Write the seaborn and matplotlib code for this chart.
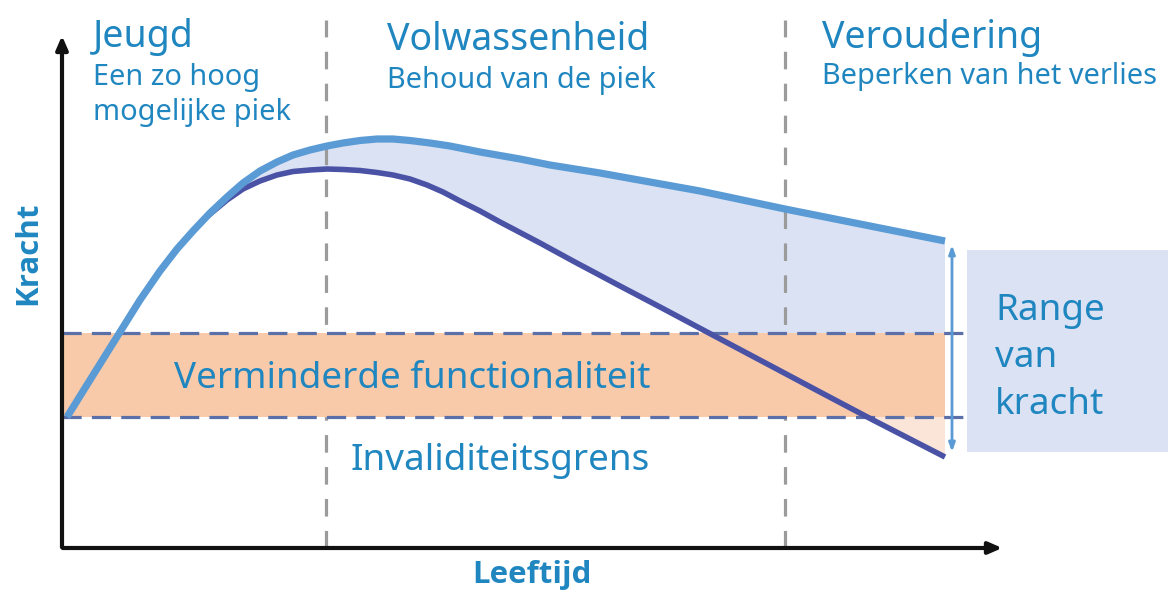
import matplotlib
matplotlib.use("Agg")
import matplotlib.pyplot as plt
from matplotlib.patches import Rectangle
import seaborn as sns
import numpy as np

# ---- data (age position, strength level) ----
upper_x = [67, 90, 120, 140, 160, 177, 193, 210, 227, 243, 260, 277, 293, 310, 327, 343, 360, 377,
           393, 410, 430, 450, 480, 520, 550, 600, 700, 785, 870, 945]
upper_y = [176, 213, 261, 293, 322, 344, 362, 380, 396, 410, 422, 431, 438, 443, 447, 450, 452.5, 454,
           454, 452.5, 450, 447, 441, 434, 428, 420, 402, 384, 367, 352]
lower_x = [203, 215, 227, 243, 260, 277, 293, 310, 327, 343, 360, 377, 393, 410, 427, 443, 460, 480,
           500, 540, 573, 620, 660, 707, 773, 820, 873, 945]
lower_y = [373, 383, 393, 404, 412, 418, 421.5, 423, 424, 423.5, 422.5, 420.5, 418, 414, 408, 401, 392, 382,
           371, 350, 332, 307, 286, 261, 226, 201, 173, 136]

band_low, band_high = 176, 260          # invaliditeitsgrens / verminderde functionaliteit
phase_bounds = [326, 785]
phase_titles = ["Jeugd", "Volwassenheid", "Veroudering"]
phase_subtitles = ["Een zo hoog\nmogelijke piek", "Behoud van de piek", "Beperken van het verlies"]
band_label = "Verminderde functionaliteit"
limit_label = "Invaliditeitsgrens"
range_label = "Range\nvan\nkracht"
x_label = "Leeftijd"
y_label = "Kracht"

# ---- style ----
sns.set_style("white")
plt.rcParams['font.family'] = ['Noto Sans', 'DejaVu Sans']

TXT = "#1f86c0"
UP = "#5b9bd5"
LOW = "#4a52a6"
FILL = "#dbe2f3"
ORANGE = "#f8caa9"
PEACH = "#fbe4d8"
HDASH = "#5b6fa8"
VDASH = "#9b9b9b"

fig = plt.figure(figsize=(11.68, 5.93), dpi=100)
ax = fig.add_axes([0, 0, 1, 1])
ax.set_xlim(0, 1168)
ax.set_ylim(0, 593)
ax.axis("off")

x0, y0 = 62, 45
x_end = 945

# fill between curves
ux = np.array(upper_x); uy = np.array(upper_y)
m = ux >= lower_x[0]
poly_x = np.concatenate([ux[m], np.array(lower_x)[::-1]])
poly_y = np.concatenate([uy[m], np.array(lower_y)[::-1]])
p1 = ax.fill(poly_x, poly_y, color=FILL, lw=0, zorder=1)[0]
p1.set_clip_path(Rectangle((0, band_low), 1168, 600, transform=ax.transData))
p2 = ax.fill(poly_x, poly_y, color=PEACH, lw=0, zorder=1)[0]
p2.set_clip_path(Rectangle((0, 0), 1168, band_low, transform=ax.transData))

# right box
ax.add_patch(Rectangle((967, 141), 201, 202, color=FILL, lw=0, zorder=1))

# phase boundary lines
for xb in phase_bounds:
    ax.plot([xb, xb], [y0, 573], color=VDASH, lw=2.3, dashes=(5.5, 4.5), zorder=2)

# orange band
ax.add_patch(Rectangle((x0, band_low), x_end - x0, band_high - band_low, color=ORANGE, lw=0, zorder=3))
for yb in (band_low, band_high):
    ax.plot([x0, 968], [yb, yb], color=HDASH, lw=2.3, dashes=(6, 3.2), zorder=4)

# curves
sns.lineplot(x=upper_x, y=upper_y, sort=False, color=UP, lw=5.2, ax=ax, zorder=6,
             solid_capstyle="butt", solid_joinstyle="round")
sns.lineplot(x=lower_x, y=lower_y, sort=False, color=LOW, lw=4.0, ax=ax, zorder=5,
             solid_capstyle="butt", solid_joinstyle="round")

# axes arrows
ax.annotate("", xy=(x0, 560), xytext=(x0, y0 - 2),
            arrowprops=dict(arrowstyle="-|>,head_length=0.8,head_width=0.35", lw=3, color="#111111"), zorder=7)
ax.annotate("", xy=(1005, y0), xytext=(x0 - 2, y0),
            arrowprops=dict(arrowstyle="-|>,head_length=0.8,head_width=0.35", lw=3, color="#111111"), zorder=7)

# range arrow
ax.annotate("", xy=(952, 348), xytext=(952, 141),
            arrowprops=dict(arrowstyle="<|-|>,head_length=0.5,head_width=0.18", lw=2, color=UP,
                            shrinkA=0, shrinkB=0), zorder=7)

# texts
TS, SS, BS = 27, 20.8, 26.5
title_x = [93, 387, 822]
ax.text(title_x[0], 546, phase_titles[0], color=TXT, fontsize=TS, va="baseline", ha="left")
ax.text(title_x[1], 543, phase_titles[1], color=TXT, fontsize=TS, va="baseline", ha="left")
ax.text(title_x[2], 545, phase_titles[2], color=TXT, fontsize=TS, va="baseline", ha="left")
ax.text(title_x[0], 508, phase_subtitles[0].split("\n")[0], color=TXT, fontsize=SS, va="baseline")
ax.text(title_x[0], 473, phase_subtitles[0].split("\n")[1], color=TXT, fontsize=SS, va="baseline")
ax.text(title_x[1], 505, phase_subtitles[1], color=TXT, fontsize=SS, va="baseline")
ax.text(title_x[2], 509, phase_subtitles[2], color=TXT, fontsize=SS, va="baseline")

ax.text(174, 205, band_label, color=TXT, fontsize=BS, va="baseline", zorder=8)
ax.text(350, 123, limit_label, color=TXT, fontsize=BS, va="baseline", zorder=8)
for i, line in enumerate(range_label.split("\n")):
    ax.text(995, 273 - 47 * i, line, color=TXT, fontsize=BS, va="baseline", zorder=8)

ax.text(532, 10, x_label, color=TXT, fontsize=22.5, fontweight="bold", ha="center", va="baseline",
        family=["Open Sans", "DejaVu Sans"])
ax.text(28, 340, y_label, color=TXT, fontsize=22.5, fontweight="bold", ha="center", va="center",
        rotation=90, family=["Open Sans", "DejaVu Sans"])

fig.savefig("out.png", dpi=100)
